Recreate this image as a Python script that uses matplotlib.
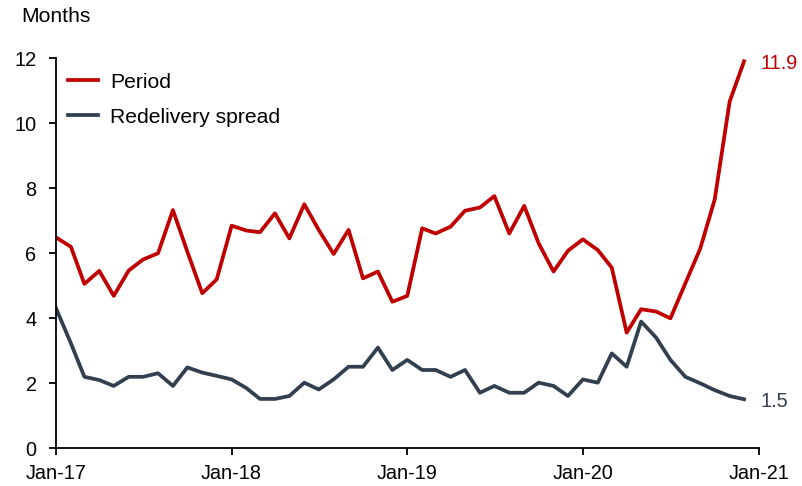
import matplotlib
matplotlib.use("Agg")
import matplotlib.pyplot as plt
import pandas as pd

plt.rcParams['font.family'] = ['Liberation Sans', 'DejaVu Sans']

months = pd.date_range('2017-01-01', periods=48, freq='MS')
period = [6.48, 6.19, 5.05, 5.45, 4.68, 5.46, 5.80, 5.99, 7.32, 6.04, 4.76, 5.19,
          6.84, 6.69, 6.64, 7.22, 6.45, 7.50, 6.71, 5.97, 6.71, 5.22, 5.43, 4.50,
          4.68, 6.76, 6.60, 6.81, 7.30, 7.40, 7.75, 6.60, 7.45, 6.30, 5.43, 6.07,
          6.42, 6.09, 5.55, 3.55, 4.27, 4.20, 3.99, 5.07, 6.14, 7.65, 10.66, 11.90]
redelivery = [4.30, 3.22, 2.19, 2.09, 1.91, 2.19, 2.19, 2.30, 1.91, 2.48, 2.32, 2.22,
              2.11, 1.84, 1.51, 1.51, 1.60, 2.01, 1.80, 2.11, 2.50, 2.50, 3.09, 2.40,
              2.71, 2.40, 2.40, 2.19, 2.40, 1.70, 1.91, 1.70, 1.70, 2.01, 1.91, 1.60,
              2.11, 2.01, 2.91, 2.50, 3.89, 3.40, 2.71, 2.19, 1.99, 1.78, 1.60, 1.50]
tick_dates = pd.to_datetime(['2017-01-01', '2018-01-01', '2019-01-01', '2020-01-01', '2021-01-01'])
tick_labels = ['Jan-17', 'Jan-18', 'Jan-19', 'Jan-20', 'Jan-21']
series_names = ['Period', 'Redelivery spread']
colors = ['#C00000', '#323F4F']

fig = plt.figure(figsize=(8.03, 4.86), dpi=100)
ax = fig.add_axes([56/803, 38/486, 703/803, 390/486])

ax.plot(months, period, color=colors[0], lw=2.7, label=series_names[0])
ax.plot(months, redelivery, color=colors[1], lw=2.7, label=series_names[1])

ax.set_ylim(0, 12)
ax.set_yticks(range(0, 13, 2))
ax.set_xlim(tick_dates[0], tick_dates[-1])
ax.set_xticks(tick_dates)
ax.set_xticklabels(tick_labels)

for s in ['top', 'right']:
    ax.spines[s].set_visible(False)
for s in ['left', 'bottom']:
    ax.spines[s].set_linewidth(1.3)
    ax.spines[s].set_color('black')
ax.tick_params(axis='both', direction='out', length=5, width=1.3, labelsize=14.3, colors='black')
ax.tick_params(axis='x', pad=6.5)
ax.tick_params(axis='y', pad=9)

leg = ax.legend(loc='upper left', bbox_to_anchor=(-0.004, 1.0), frameon=False, fontsize=15.2,
                handlelength=1.4, handletextpad=0.58, labelspacing=0.76, borderaxespad=0.3)

ax.annotate(f'{period[-1]:.1f}', xy=(months[-1], period[-1]), xytext=(12, -1.5),
            textcoords='offset points', va='center', ha='left', fontsize=14.3, color=colors[0],
            annotation_clip=False)
ax.annotate(f'{redelivery[-1]:.1f}', xy=(months[-1], redelivery[-1]), xytext=(12, -1.5),
            textcoords='offset points', va='center', ha='left', fontsize=14.3, color=colors[1],
            annotation_clip=False)

fig.text(21/803, 1 - 17/486, 'Months', fontsize=15.2, va='center', ha='left')

fig.savefig('out.png', dpi=100)
